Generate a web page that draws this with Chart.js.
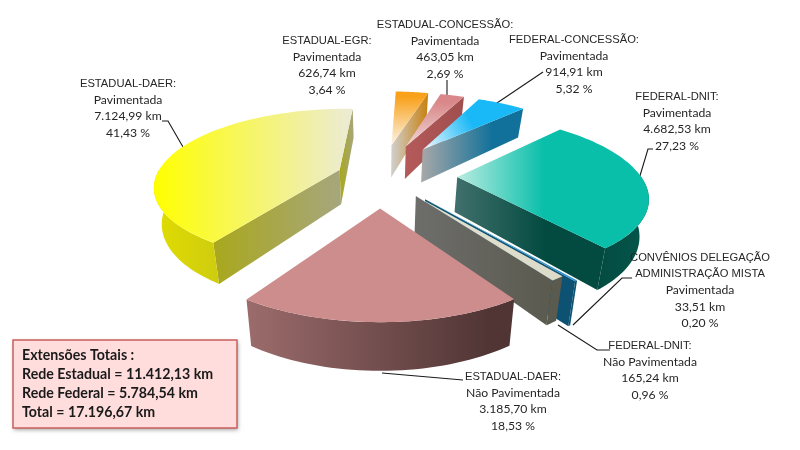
<!DOCTYPE html>
<html>
<head>
<meta charset="utf-8">
<style>
  html, body { margin: 0; padding: 0; background: #fff; }
  canvas { display: block; }
</style>
<script src="https://cdn.jsdelivr.net/npm/chart.js@4/dist/chart.umd.min.js"></script>
</head>
<body>
<canvas id="malhaChart" width="800" height="450"></canvas>
<script>
// Values, clockwise from the big teal slice
const categories = ['FEDERAL-DNIT:', 'CONVÊNIOS DELEGAÇÃO|ADMINISTRAÇÃO MISTA', 'FEDERAL-DNIT:', 'ESTADUAL-DAER:', 'ESTADUAL-DAER:', 'ESTADUAL-EGR:', 'ESTADUAL-CONCESSÃO:', 'FEDERAL-CONCESSÃO:'];
const surfaces = ['Pavimentada', 'Pavimentada', 'Não Pavimentada', 'Não Pavimentada', 'Pavimentada', 'Pavimentada', 'Pavimentada', 'Pavimentada'];
const kmValues = [4682.53, 33.51, 165.24, 3185.70, 7124.99, 626.74, 463.05, 914.91];
const kmLabels = ['4.682,53 km', '33,51 km', '165,24 km', '3.185,70 km', '7.124,99 km', '626,74 km', '463,05 km', '914,91 km'];
const percentLabels = ['27,23 %', '0,20 %', '0,96 %', '18,53 %', '41,43 %', '3,64 %', '2,69 %', '5,32 %'];
const totalLines = ['Extensões Totais :', 'Rede Estadual = 11.412,13 km', 'Rede Federal = 5.784,54 km', 'Total = 17.196,67 km'];

// Explode distance of each slice
const explode = [77, 70, 59, 75, 43, 80, 80, 80];
const drawOrder = [5, 6, 7, 4, 0, 1, 2, 3];

// top: [from, to, stop of "to"], dir: gradient direction, edge/round: wall gradients
const sliceStyles = [
    { top: ['#b9ece1', '#0abfaa', 0.45], dir: [1, 0], edge: ['#41706c', '#034b41', 0.6], round: ['#034b41', '#05564b', 1] },
    { top: ['#2d8fd0', '#2d8fd0', 1], dir: [1, 0], edge: ['#0d5272', '#0d5272', 1], round: ['#0d5272', '#0d5272', 1] },
    { top: ['#e2e0d0', '#dcdac8', 1], dir: [1, 0], edge: ['#6d6d6b', '#5b5a4f', 1], round: ['#5b5a4f', '#5b5a4f', 1] },
    { top: ['#cd8d8c', '#cd8d8c', 1], dir: [1, 0], edge: ['#9a6868', '#9a6868', 1], round: ['#9c6c6c', '#513535', 0.9] },
    { top: ['#ffff00', '#ecebd6', 1], dir: [1, 0], edge: ['#a9a81c', '#a6a67e', 1], round: ['#e0dc00', '#cfcc10', 1] },
    { top: ['#fbf6ea', '#f9a11b', 0.9], dir: [0, -1], edge: ['#d0d0d0', '#c8800f', 1], round: ['#c8800f', '#c8800f', 1] },
    { top: ['#f0d8d8', '#d98788', 0.85], dir: [0, -1], edge: ['#b55a5a', '#a04e4e', 1], round: ['#a04e4e', '#a04e4e', 1] },
    { top: ['#f4fbff', '#19b8f6', 0.5], dir: [1, -1], edge: ['#a8a8a8', '#11719a', 0.7], round: ['#11719a', '#11719a', 1] }
];

// Label anchors (centre x, first line y) and leader lines
const labelAnchors = [[677, 97], [700, 258], [650, 346], [513, 377], [128, 84], [327, 41], [445, 25], [574, 40]];
const leaders = [
    [[653, 149], [648, 149], [639, 179]],
    [[632, 278], [622, 278], [573, 325]],
    [[610, 350], [597, 350], [558, 325]],
    [[463, 380], [382, 373]],
    [[162, 121], [168, 121], [183, 147]],
    [],
    [[447, 80], [447, 100]],
    [[543, 72], [494, 105]]
];

const TILT = 0.41;
const PERSPECTIVE = 0.00109;
const DEPTH = 35;
const BOTTOM_SHRINK = 0.965;

function project(arc, wx, wy, low) {
    const s = 1 / (1 - PERSPECTIVE * wy);
    return {
        x: arc.x + wx * s * (low ? BOTTOM_SHRINK : 1),
        y: arc.y + wy * TILT * s + (low ? DEPTH * s : 0)
    };
}

function fillPolygon(ctx, points, fill) {
    ctx.beginPath();
    points.forEach(function(p, i) {
        if (i === 0) ctx.moveTo(p.x, p.y);
        else ctx.lineTo(p.x, p.y);
    });
    ctx.closePath();
    ctx.fillStyle = fill;
    ctx.fill();
}

function gradientFor(ctx, points, dir, colors) {
    const xs = points.map(p => p.x);
    const ys = points.map(p => p.y);
    const minX = Math.min(...xs), maxX = Math.max(...xs);
    const minY = Math.min(...ys), maxY = Math.max(...ys);
    const x0 = dir[0] === 0 ? minX : (dir[0] > 0 ? minX : maxX);
    const x1 = dir[0] === 0 ? minX : (dir[0] > 0 ? maxX : minX);
    const y0 = dir[1] === 0 ? minY : (dir[1] > 0 ? minY : maxY);
    const y1 = dir[1] === 0 ? minY : (dir[1] > 0 ? maxY : minY);
    const g = ctx.createLinearGradient(x0, y0, x1, y1);
    g.addColorStop(0, colors[0]);
    g.addColorStop(colors[2], colors[1]);
    return g;
}

function drawSlice(ctx, arc, style) {
    const a = arc.startAngle, b = arc.endAngle, r = arc.outerRadius;
    const mid = (a + b) / 2;
    const off = arc.options.offset;
    const ox = Math.cos(mid) * off, oy = Math.sin(mid) * off;
    const world = ang => [ox + Math.cos(ang) * r, oy + Math.sin(ang) * r];
    const apexTop = project(arc, ox, oy, false);
    const apexLow = project(arc, ox, oy, true);

    function edgeWall(ang) {
        const w = world(ang);
        const pts = [apexTop, project(arc, w[0], w[1], false), project(arc, w[0], w[1], true), apexLow];
        fillPolygon(ctx, pts, gradientFor(ctx, pts, [1, 0], style.edge));
    }

    // side walls that face the viewer
    if (Math.cos(a) < 0) edgeWall(a);
    if (Math.cos(b) > 0) edgeWall(b);

    // round outer wall, only the front half of the circle shows
    for (let turn = -1; turn <= 1; turn++) {
        const from = Math.max(a, turn * 2 * Math.PI);
        const to = Math.min(b, turn * 2 * Math.PI + Math.PI);
        if (to <= from) continue;
        const upper = [], lower = [];
        for (let i = 0; i <= 40; i++) {
            const w = world(from + (to - from) * i / 40);
            upper.push(project(arc, w[0], w[1], false));
            lower.unshift(project(arc, w[0], w[1], true));
        }
        const pts = upper.concat(lower);
        fillPolygon(ctx, pts, gradientFor(ctx, pts, [1, 0], style.round));
    }

    // top face
    const top = [apexTop];
    for (let i = 0; i <= 60; i++) {
        const w = world(a + (b - a) * i / 60);
        top.push(project(arc, w[0], w[1], false));
    }
    fillPolygon(ctx, top, gradientFor(ctx, top, style.dir, style.top));
}

const pie3d = {
    id: 'pie3d',
    beforeDatasetDraw(chart) {
        const ctx = chart.ctx;
        const arcs = chart.getDatasetMeta(0).data;

        // leader lines go under the slices
        ctx.save();
        ctx.strokeStyle = '#1a1a1a';
        ctx.lineWidth = 1.1;
        leaders.forEach(function(line) {
            if (!line.length) return;
            ctx.beginPath();
            line.forEach(function(p, i) {
                if (i === 0) ctx.moveTo(p[0], p[1]);
                else ctx.lineTo(p[0], p[1]);
            });
            ctx.stroke();
        });
        ctx.restore();

        drawOrder.forEach(function(i) {
            drawSlice(ctx, arcs[i], sliceStyles[i]);
        });
        return false;
    }
};

const annotations = {
    id: 'annotations',
    afterDraw(chart) {
        const ctx = chart.ctx;
        ctx.save();

        // slice labels
        ctx.fillStyle = '#262626';
        ctx.textAlign = 'center';
        ctx.textBaseline = 'middle';
        categories.forEach(function(name, i) {
            const titles = name.split('|');
            const lines = titles.concat([surfaces[i], kmLabels[i], percentLabels[i]]);
            lines.forEach(function(text, n) {
                ctx.font = n < titles.length ? '11.2px "Liberation Sans"' : '12.2px Lato';
                ctx.fillText(text, labelAnchors[i][0], labelAnchors[i][1] + n * 16.2);
            });
        });

        // totals box
        ctx.save();
        ctx.shadowColor = 'rgba(0,0,0,0.35)';
        ctx.shadowBlur = 4;
        ctx.shadowOffsetX = 1;
        ctx.shadowOffsetY = 2;
        ctx.fillStyle = '#ffdddd';
        ctx.fillRect(13, 340, 224, 88);
        ctx.restore();
        ctx.strokeStyle = '#c9605e';
        ctx.lineWidth = 1.5;
        ctx.strokeRect(13, 340, 224, 88);
        ctx.font = 'bold 14.2px Lato';
        ctx.fillStyle = '#1a1a1a';
        ctx.textAlign = 'left';
        totalLines.forEach(function(text, n) {
            ctx.fillText(text, 22, 355 + n * 19);
        });

        ctx.restore();
    }
};

new Chart(document.getElementById('malhaChart').getContext('2d'), {
    type: 'pie',
    data: {
        labels: categories,
        datasets: [{
            data: kmValues,
            offset: explode,
            radius: 183,
            borderWidth: 0
        }]
    },
    options: {
        responsive: false,
        animation: false,
        rotation: 44.4,
        layout: { padding: { right: 40, bottom: 100 } },
        plugins: {
            legend: { display: false },
            tooltip: { enabled: false }
        }
    },
    plugins: [pie3d, annotations]
});
</script>
</body>
</html>
